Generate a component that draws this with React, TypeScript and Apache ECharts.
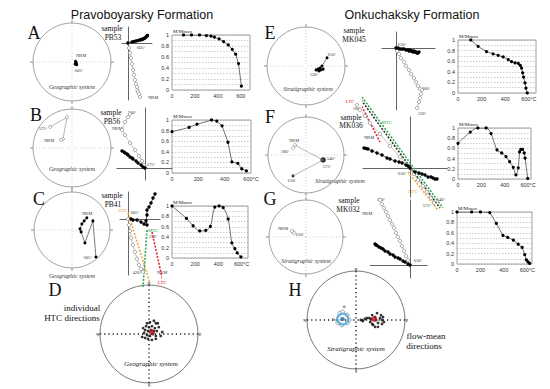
import React, { useEffect, useRef } from 'react';
import * as echarts from 'echarts';

// ---------- Demagnetisation curves: [temperature °C, M/Mmax] ----------
const magA = [[100, 1], [170, 1], [240, 1], [300, 0.99], [340, 0.98], [370, 0.96], [410, 0.93], [450, 0.88], [490, 0.82], [525, 0.74], [555, 0.65], [580, 0.48], [605, 0.07]];
const magB = [[0, 0.78], [130, 0.86], [190, 0.92], [300, 1.0], [340, 0.98], [380, 0.89], [425, 0.58], [455, 0.21], [500, 0.18], [530, 0.08], [565, 0.04]];
const magC = [[0, 1], [124, 0.76], [182, 0.62], [239, 0.52], [291, 0.53], [331, 0.61], [369, 0.98], [406, 1], [441, 0.97], [484, 0.75], [516, 0.29], [542, 0.18], [562, 0.1], [594, 0.02]];
const magE = [[108, 1], [170, 0.88], [241, 0.78], [297, 0.74], [340, 0.71], [382, 0.68], [425, 0.63], [453, 0.59], [482, 0.57], [510, 0.56], [527, 0.52], [538, 0.47], [547, 0.38], [555, 0.3], [567, 0.19], [575, 0.09], [586, 0]];
const magF = [[0, 0.7], [105, 0.92], [170, 1], [241, 1], [283, 0.89], [334, 0.57], [374, 0.51], [411, 0.44], [442, 0.34], [473, 0.23], [496, 0.08], [516, 0.22], [527, 0.53], [538, 0.58], [552, 0.58], [567, 0.51], [574, 0.41], [597, 0.01]];
const magG = [[0, 1], [125, 1], [200, 1], [280, 0.99], [336, 0.78], [392, 0.55], [433, 0.51], [481, 0.46], [522, 0.38], [556, 0.32], [578, 0.18], [592, 0.08], [606, 0.04], [620, 0.01]];
const tempTicks = [0, 200, 400, 600];

// ---------- Zijderveld diagrams: [x, y] components (0.1 mA/m) ----------
const zijA_h = [[0, 0], [4, 1], [6, 1.5], [8, 2], [10, 2.5], [12, 3], [13, 3.5], [14, 3.5], [15, 4], [16, 4.5], [17, 5], [18, 6], [19, 7], [19.5, 7.5]];
const zijA_v = [[0, 0], [1, -5], [2, -10], [3, -15], [4, -21], [5, -27], [6, -32], [7, -37], [8, -41], [9, -44], [9.5, -47], [10, -49], [11, -51], [12, -54]];
const zijB_h = [[-23, 17], [-21, 16], [-20, 15], [-18, 14], [-17, 13], [-15, 11], [-13, 10], [-12, 9], [-9, 7], [-7, 5], [-4, 3], [-2, 1], [0, 0]];
const zijB_v = [[-15, 54], [-17, 51], [-20, 46], [-23, 38], [-20, 33], [-15, 25], [-10, 18], [-6, 12], [-3, 7], [-1, 3], [0, 0]];
const zijC_h = [[3, 0], [5, -1], [9, -1], [13, -3], [16, -5], [19, -6], [18, -2], [19, 4], [19, 9], [21, 12], [23, 16], [25, 21], [27, 25]];
const zijC_v = [[0, 0], [1, -6], [2, -12], [3, -19], [5, -26], [7, -33], [9, -40], [11, -46], [13, -50], [15, -53]];
const zijE_h = [[0, 0], [2, 0], [4, -1], [6, -1], [8, -1], [10, -2], [12, -2], [13, -3], [14, -2], [15, -3], [16, -3], [17, -4], [18, -3], [19, -4], [20, -4], [21, -5], [22, -5], [23, -4]];
const zijE_v = [[0, 0], [1, -3], [3, -6], [5, -10], [8, -14], [10, -18], [13, -22], [15, -26], [18, -30], [20, -34], [22, -38], [24, -41], [26, -42], [25, -46], [24, -50], [23, -54], [21, -60]];
const zijF_h = [[-46, 20], [-44, 19.5], [-42, 19], [-38, 17], [-33, 15], [-28, 13], [-23, 10], [-20, 9], [-15, 7], [-11, 6], [-8, 5], [-4, 3], [-2, 2], [0, 0], [5, -4], [9, -5], [12, -6], [15, -7], [18, -9], [21, -9], [23, -10], [25, -11], [27, -11]];
const zijF_v = [[-53, 63], [-50, 58], [-45, 52], [-40, 45], [-30, 34], [-20, 22], [-10, 11], [-4, 4], [0, 0], [4, -6], [8, -12], [13, -18], [17, -24], [21, -30], [24, -35]];
const zijG_h = [[-35, 21], [-34, 20], [-33, 19.5], [-31, 18], [-29, 17], [-27, 16], [-25, 14], [-22, 13], [-20, 11], [-17, 10], [-15, 8], [-12, 7], [-10, 6], [-7, 4], [-5, 3], [-2, 1], [0, 0]];
const zijG_v = [[-30, 65], [-28, 61], [-26, 57], [-24, 53], [-22, 49], [-20, 45], [-18, 41], [-16, 37], [-14, 32], [-12, 28], [-10, 24], [-8, 19], [-6, 14], [-4, 9], [-2, 5], [0, 0]];
// component fits (LTC / MTC / HTC)
const fitC_htc = [[0, 6], [22, -64]];
const fitC_mtc = [[19, -11], [15, -68]];
const fitC_ltc = [[24, -13], [35, -63]];
const fitF_ltc = [[-53, 71], [-30, 26]];
const fitF_mtc = [[-48, 71], [33, -40]];
const fitF_all = [[-51, 71], [30, -40]];
const fitF_htc = [[-2, -4], [28, -42]];

// ---------- Stereonets: [east, north] in units of net radius ----------
const netA = [[0.09, 0.02], [0.1, 0.0], [0.11, -0.03], [0.1, -0.06], [0.08, -0.05], [0.12, -0.07]];
const netB = [[-0.56, 0.54], [-0.13, 0.79], [-0.23, 0.23], [-0.28, 0.21]];
const netC = [[0.39, 0.32], [0.32, 0.24], [0.26, 0.16], [0.21, 0.03], [0.24, -0.05], [0.34, -0.34], [0.55, 0.24], [0.63, -0.71]];
const netE = [[0.54, 0.21], [0.41, 0], [0.36, -0.05], [0.31, -0.08], [0.38, -0.1], [0.44, -0.08], [0.26, -0.1], [0.33, -0.13]];
const netF = [[-0.29, 0.26], [0.45, -0.13], [-0.34, -0.55]];
const netF_open = [[-0.29, 0.26], [-0.34, 0.18]];
const netF_big = [[0.45, -0.13]];
const netF_end = [[-0.34, -0.55]];
const netG = [[-0.35, 0.14], [-0.38, 0.16], [-0.32, 0.11]];
const netD = [[-0.04, 0.22], [0.02, 0.24], [0.1, 0.27], [0.14, 0.22], [0.18, 0.22], [-0.06, 0.16], [0, 0.14], [0.06, 0.16], [0.12, 0.12], [-0.08, 0.08], [-0.02, 0.06], [0.04, 0.08], [0.1, 0.06], [0.16, 0.06], [0.27, 0.04], [-0.1, 0.02], [-0.04, -0.02], [0.02, -0.04], [0.08, 0], [0.14, -0.04], [-0.08, -0.08], [-0.02, -0.1], [0.06, -0.12], [0.14, -0.1], [-0.14, -0.06], [-0.12, 0.12], [0.2, 0.14], [0.24, -0.04]];
const netD_mean = [[0.06, 0.04]];
const netH_normal = [[0.14, -0.02], [0.18, 0.02], [0.22, 0.04], [0.27, 0.04], [0.29, -0.04], [0.33, 0.1], [0.33, -0.08], [0.35, -0.1], [0.39, 0.06], [0.39, -0.14], [0.43, 0.14], [0.45, -0.06], [0.45, -0.14], [0.49, 0.04], [0.51, 0.1], [0.53, 0], [0.53, -0.08], [0.55, 0.06], [0.57, -0.04], [0.41, 0], [0.31, 0.02], [0.1, 0]];
const netH_normalMean = [[0.37, 0.02]];
const netH_reversed = [[-0.33, 0.14], [-0.18, 0.1], [-0.37, -0.06], [-0.29, -0.1], [-0.18, -0.06], [-0.14, 0], [-0.27, 0.16], [-0.35, 0.04]];
const netH_other = [[-0.24, 0.27]];
const netH_reversedMean = [[-0.27, 0.02]];

const SERIF = '"Liberation Serif", "DejaVu Serif", serif';
const SANS = '"Liberation Sans", Arial, sans-serif';
const ORANGE = '#f2a33a';
const GREEN = '#2fa84f';
const RED = '#e3262e';

const magGrids = [
  { left: 172, top: 35, width: 78, height: 55, max: 680, data: magA, smooth: false, unit: false },
  { left: 172, top: 120, width: 79, height: 53, max: 600, data: magB, smooth: false, unit: true },
  { left: 172, top: 206, width: 76, height: 52, max: 655, data: magC, smooth: true, unit: true },
  { left: 458, top: 40, width: 78, height: 53, max: 660, data: magE, smooth: false, unit: true },
  { left: 458, top: 128, width: 73, height: 51, max: 625, data: magF, smooth: true, unit: true },
  { left: 457, top: 212, width: 75, height: 52, max: 640, data: magG, smooth: false, unit: true },
];

const zijGrids = [
  { left: 122, top: 27, width: 30, height: 73, x: [-6, 24], y: [-57, 16], h: zijA_h, v: zijA_v },
  { left: 117, top: 108, width: 55, height: 72, x: [-28, 27], y: [-12, 60], h: zijB_h, v: zijB_v },
  { left: 120, top: 192, width: 40, height: 83, x: [-8, 32], y: [-56, 27], h: zijC_h, v: zijC_v },
  { left: 382, top: 32, width: 53, height: 78, x: [-14, 39], y: [-62, 16], h: zijE_h, v: zijE_v },
  { left: 363, top: 117, width: 84, height: 80, x: [-47, 37], y: [-29, 51], h: zijF_h, v: zijF_v },
  { left: 370, top: 200, width: 57, height: 78, x: [-40, 17], y: [-13, 65], h: zijG_h, v: zijG_v },
];

const fits = [
  { grid: 2, data: fitC_htc, color: ORANGE },
  { grid: 2, data: fitC_mtc, color: GREEN },
  { grid: 2, data: fitC_ltc, color: RED },
  { grid: 4, data: fitF_ltc, color: RED },
  { grid: 4, data: fitF_all, color: '#333' },
  { grid: 4, data: fitF_mtc, color: GREEN },
  { grid: 4, data: fitF_htc, color: ORANGE },
];

const nets = [
  { c: [72, 62], r: 39, big: false },
  { c: [72, 148], r: 39, big: false },
  { c: [72, 230], r: 38, big: false },
  { c: [306, 66], r: 39, big: false },
  { c: [306, 155], r: 38, big: false },
  { c: [306, 237], r: 37, big: false },
  { c: [149, 334], r: 49, big: true },
  { c: [356, 320], r: 49, big: true },
];

const toPolar = (pts: number[][]) =>
  pts.map(([x, y]) => [Math.hypot(x, y), ((Math.atan2(x, y) * 180) / Math.PI + 360) % 360]);

type Lbl = [string, number, number, number, string?, string?];
const labels: Lbl[] = [
  ['Pravoboyarsky Formation', 142, 15, 12.5, 'sans'],
  ['Onkuchaksky Formation', 412, 15, 12.5, 'sans'],
  ['A', 34, 33, 18], ['B', 36, 115, 18], ['C', 39, 199, 18], ['D', 55, 290, 18],
  ['E', 270, 33, 18], ['F', 270, 117, 18], ['G', 270, 199, 18], ['H', 295, 290, 18],
  ['sample', 112, 28.5, 7.5], ['PB53', 113, 37.3, 7.5],
  ['sample', 111, 112.5, 7.5], ['PB56', 112, 121.3, 7.5],
  ['sample', 112, 195.5, 7.5], ['PB41', 113, 204.3, 7.5],
  ['sample', 354, 30.5, 7.5], ['MK045', 354, 39.3, 7.5],
  ['sample', 351, 117, 7.5], ['MK036', 351, 125.8, 7.5],
  ['sample', 349, 200.5, 7.5], ['MK032', 348, 209.3, 7.5],
  ['NRM', 81, 55, 4.5], ['605°', 79, 70, 4.5], ['605°', 141, 47, 4.5], ['NRM', 153, 97, 4.5],
  ['575°', 43, 128.5, 4.5], ['NRM', 49, 140, 4.5], ['340°', 132, 112, 4.5], ['NRM', 117, 128, 4.5], ['575°', 151, 164, 4.5],
  ['NRM', 87, 213, 4.5], ['605°', 88, 257, 4.5], ['HTC', 123, 210, 5, 'it', ORANGE], ['605°', 135, 212, 4.5],
  ['MTC', 153, 230.5, 5, 'it', GREEN], ['250°', 153, 236.5, 4.5], ['420°', 137, 272, 4.5], ['NRM', 162, 272, 4.5], ['LTC', 162, 282, 5, 'it', RED],
  ['610°', 332, 54, 4.5], ['120°', 314, 74, 4.5], ['610°', 402, 44, 4.5], ['360°', 426, 88, 4.5], ['120°', 422, 113, 4.5],
  ['NRM', 294, 140, 4.5], ['180°', 285, 151, 4.5], ['540°', 331, 158, 4.5], ['575°', 327, 166, 4.5], ['610°', 292, 180, 4.5],
  ['LTC', 350, 101, 5, 'it', RED], ['180°', 357, 108, 4.5], ['MTC', 387, 122, 5, 'it', GREEN], ['NRM', 369, 137, 4.5],
  ['610°', 402, 173, 4.5], ['HTC', 413, 191, 5, 'it', ORANGE], ['575°', 427, 205, 4.5], ['540°', 441, 199, 4.5],
  ['NRM', 283, 228, 4.5], ['610°', 300, 234, 4.5], ['180°', 381, 199, 4.5], ['NRM', 367, 213, 4.5], ['610°', 418, 260, 4.5],
  ['Geographic system', 72, 87, 6, 'it'], ['Geographic system', 72, 169, 6, 'it'], ['Geographic system', 72, 276, 6, 'it'],
  ['Stratigraphic system', 308, 89, 6, 'it'], ['Stratigraphic system', 340, 181, 6, 'it'], ['Stratigraphic system', 306, 261, 6, 'it'],
  ['Geographic system', 151, 364, 7, 'it'], ['Stratigraphic system', 356, 349, 7, 'it'],
  ['individual', 82, 308, 9], ['HTC directions', 72, 317.5, 9], ['flow-mean', 426, 336, 9], ['directions', 424, 346, 9],
  ['N', 149, 283, 4], ['E', 200, 334, 4], ['S', 149, 385, 4], ['W', 98, 334, 4],
  ['N', 356, 269, 4], ['E', 407, 320, 4], ['S', 356, 371, 4], ['W', 305, 320, 4], ['Pn', 334, 319, 4],
];

export default function App() {
  const ref = useRef<HTMLDivElement>(null);
  useEffect(() => {
    if (!ref.current) return;
    const chart = echarts.init(ref.current, undefined, { renderer: 'svg' });
    const grid: any[] = [];
    const xAxis: any[] = [];
    const yAxis: any[] = [];
    const series: any[] = [];

    magGrids.forEach((g, i) => {
      grid.push({ left: g.left, top: g.top, width: g.width, height: g.height, show: true, borderColor: '#a0a0a0', borderWidth: 1, containLabel: false });
      xAxis.push({
        gridIndex: i, type: 'value', min: 0, max: g.max, interval: 200,
        axisLine: { show: false }, axisTick: { show: false }, splitLine: { show: false },
        axisLabel: {
          fontSize: 5.5, color: '#333', margin: 3, fontFamily: SANS,
          formatter: (v: number) => (tempTicks.includes(v) ? (v === 600 && g.unit ? '600°C' : String(v)) : ''),
        },
      });
      yAxis.push({
        gridIndex: i, type: 'value', min: 0, max: 1, interval: 0.1,
        axisLine: { show: false }, axisTick: { show: false },
        splitLine: { show: true, lineStyle: { type: [1.5, 1.5], color: '#9a9a9a', width: 0.5 } },
        axisLabel: {
          fontSize: 5.5, color: '#333', margin: 3, fontFamily: SANS,
          formatter: (v: number) => {
            const k = Math.round(v * 10);
            if (k % 2 !== 0) return '';
            return k === 0 ? '0' : k === 10 ? '1' : (k / 10).toFixed(1);
          },
        },
      });
      series.push({
        type: 'line', xAxisIndex: i, yAxisIndex: i, data: g.data, smooth: g.smooth ? 0.35 : false,
        symbol: 'circle', symbolSize: 3.2, showAllSymbol: true,
        lineStyle: { color: '#333', width: 0.7 }, itemStyle: { color: '#000' }, silent: true,
      });
    });

    zijGrids.forEach((g, k) => {
      const i = magGrids.length + k;
      grid.push({ left: g.left, top: g.top, width: g.width, height: g.height, show: false });
      const ax = { lineStyle: { color: '#222', width: 0.7 }, onZero: true };
      xAxis.push({ gridIndex: i, type: 'value', min: g.x[0], max: g.x[1], axisLine: ax, axisTick: { show: false }, axisLabel: { show: false }, splitLine: { show: false } });
      yAxis.push({ gridIndex: i, type: 'value', min: g.y[0], max: g.y[1], axisLine: ax, axisTick: { show: false }, axisLabel: { show: false }, splitLine: { show: false } });
    });

    fits.forEach((f) => {
      const i = magGrids.length + f.grid;
      series.push({
        type: 'line', xAxisIndex: i, yAxisIndex: i, data: f.data, showSymbol: false, clip: false, silent: true,
        lineStyle: { color: f.color, width: 1.6, type: [2, 1.5] },
      });
    });

    zijGrids.forEach((g, k) => {
      const i = magGrids.length + k;
      series.push({
        type: 'line', xAxisIndex: i, yAxisIndex: i, data: g.v, symbol: 'circle', symbolSize: 3.4, showAllSymbol: true, clip: false, silent: true,
        lineStyle: { color: '#9a9a9a', width: 0.6 }, itemStyle: { color: '#fff', borderColor: '#777', borderWidth: 0.6 },
      });
      series.push({
        type: 'line', xAxisIndex: i, yAxisIndex: i, data: g.h, symbol: 'circle', symbolSize: 3.4, showAllSymbol: true, clip: false, silent: true,
        lineStyle: { color: '#111', width: 0.7 }, itemStyle: { color: '#000' },
      });
    });

    const polar: any[] = [];
    const angleAxis: any[] = [];
    const radiusAxis: any[] = [];
    nets.forEach((n, i) => {
      polar.push({ center: n.c, radius: n.r });
      angleAxis.push({
        polarIndex: i, type: 'value', min: 0, max: 360, interval: 90, startAngle: 90, clockwise: true,
        axisLine: { lineStyle: { color: n.big ? '#555' : '#8a8a8a', width: 0.8 } },
        axisTick: { show: true, length: 3, lineStyle: { color: '#666', width: 0.7 } },
        axisLabel: { show: false },
        splitLine: { show: true, lineStyle: n.big ? { type: [1.2, 3], color: '#111', width: 1.4 } : { type: [1, 2], color: '#bdbdbd', width: 0.7 } },
      });
      radiusAxis.push({ polarIndex: i, type: 'value', min: 0, max: 1, show: false });
    });

    const pLine = (pi: number, data: number[][], color: string, sym: any) => ({
      type: 'line', coordinateSystem: 'polar', polarIndex: pi, data: toPolar(data), showAllSymbol: true, silent: true,
      lineStyle: { color, width: 0.6 }, ...sym,
    });
    const pScatter = (pi: number, data: number[][], size: number, itemStyle: any) => ({
      type: 'scatter', coordinateSystem: 'polar', polarIndex: pi, data: toPolar(data), symbol: 'circle', symbolSize: size, itemStyle, silent: true,
    });
    series.push(pLine(0, netA, '#000', { symbol: 'circle', symbolSize: 3, itemStyle: { color: '#000' } }));
    series.push(pLine(1, netB, '#888', { symbol: 'circle', symbolSize: 3, itemStyle: { color: '#fff', borderColor: '#777', borderWidth: 0.6 } }));
    series.push(pLine(2, netC, '#222', { symbol: 'circle', symbolSize: 3, itemStyle: { color: '#000' } }));
    series.push(pLine(3, netE, '#222', { symbol: 'circle', symbolSize: 3, itemStyle: { color: '#000' } }));
    series.push(pLine(4, netF, '#888', { symbol: 'none' }));
    series.push(pScatter(4, netF_open, 3.4, { color: '#fff', borderColor: '#777', borderWidth: 0.6 }));
    series.push(pScatter(4, netF_big, 5.5, { color: '#000' }));
    series.push(pScatter(4, netF_end, 3, { color: '#000' }));
    series.push(pScatter(5, netG, 3.4, { color: '#fff', borderColor: '#777', borderWidth: 0.6 }));
    series.push(pScatter(6, netD, 2.8, { color: '#000' }));
    series.push(pScatter(6, netD_mean, 6, { color: '#b0121b' }));
    series.push(pScatter(7, netH_reversed, 4, { color: '#fff', borderColor: '#666', borderWidth: 0.7 }));
    series.push(pScatter(7, netH_other, 3, { color: '#888' }));
    series.push(pScatter(7, netH_reversedMean, 11, { color: 'rgba(0,0,0,0)', borderColor: '#3aa8e0', borderWidth: 2 }));
    series.push(pScatter(7, netH_reversedMean, 4, { color: '#1565b5' }));
    series.push(pScatter(7, netH_normal, 2.8, { color: '#000' }));
    series.push(pScatter(7, netH_normalMean, 6, { color: '#c0141d' }));

    const graphic: any[] = labels.map(([text, x, y, size, kind, color]) => {
      const family = kind === 'sans' ? SANS : SERIF;
      const style = kind === 'it' ? 'italic ' : '';
      return {
        type: 'text', x, y, silent: true,
        style: {
          text, fill: color || (size < 7 ? '#333' : '#111'), font: `${style}${size}px ${family}`,
          textAlign: 'center', textVerticalAlign: 'middle', align: 'center', verticalAlign: 'middle',
        },
      };
    });
    magGrids.forEach((g) => {
      graphic.push({
        type: 'text', x: g.left + 1, y: g.top - 3.5, silent: true,
        style: { text: 'M/Mmax', fill: '#222', font: `5px ${SERIF}`, textAlign: 'left', textVerticalAlign: 'middle', align: 'left', verticalAlign: 'middle' },
      });
    });

    chart.setOption({
      animation: false,
      backgroundColor: '#fff',
      grid, xAxis, yAxis, polar, angleAxis, radiusAxis, series, graphic,
    });
    return () => chart.dispose();
  }, []);
  return <div ref={ref} style={{ position: 'fixed', left: 0, top: 0, width: 550, height: 389 }} />;
}
